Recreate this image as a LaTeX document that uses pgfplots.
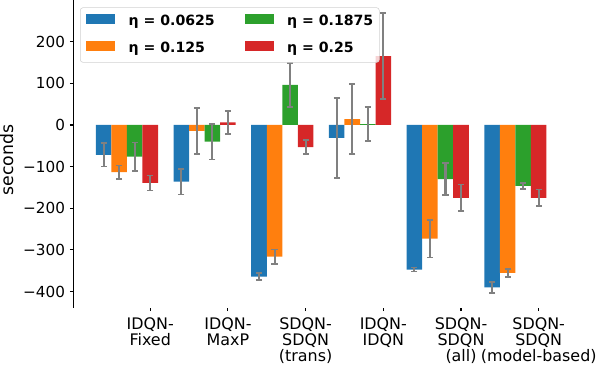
\documentclass[border=0pt]{standalone}
\usepackage{fontspec}
\setmainfont{DejaVu Sans}
\usepackage{pgfplots}
\pgfplotsset{compat=1.18}

\definecolor{c1}{HTML}{1F77B4}
\definecolor{c2}{HTML}{FF7F0E}
\definecolor{c3}{HTML}{2CA02C}
\definecolor{c4}{HTML}{D62728}
\definecolor{errgray}{HTML}{808080}

% bar centres: group index + offset (-0.6, -0.4, -0.2, 0.0)
\pgfplotstableread{
x     y     e
-0.6  -72   28
0.4   -136  31
1.4   -364  8
2.4   -31   96
3.4   -347  5
4.4   -390  13
}\etaA
\pgfplotstableread{
x     y     e
-0.4  -113  16
0.6   -14   55
1.6   -316  17
2.6   14    84
3.6   -273  45
4.6   -355  10
}\etaB
\pgfplotstableread{
x     y     e
-0.2  -76   34
0.8   -40   43
1.8   96    53
2.8   2     41
3.8   -130  38
4.8   -146  7
}\etaC
\pgfplotstableread{
x     y     e
0.0   -139  18
1.0   6     28
2.0   -53   17
3.0   165   103
4.0   -175  32
5.0   -175  20
}\etaD

\pgfplotsset{
  errbar/.style={
    error bars/.cd,
      y dir=both, y explicit,
      error bar style={line width=1.5bp, color=errgray},
      error mark options={rotate=90, mark size=2.2bp, line width=1.2bp, color=errgray},
  },
  swatch/.style={
    legend image code/.code={\fill[##1, fill opacity=1, sharp corners] (0bp,-1bp) rectangle (20.9bp,6.2bp);}
  },
}

\begin{document}
\begin{tikzpicture}
\useasboundingbox (-52.8bp,-41.3bp) rectangle (378.5bp,221.5bp);
\begin{axis}[
  at={(0,0)}, anchor=south west,
  scale only axis,
  width=356.9bp, height=221.5bp,
  xmin=-0.99, xmax=5.39,
  ymin=-438.5, ymax=300,
  axis x line*=bottom, axis y line*=left,
  x axis line style={draw=none},
  y axis line style={line width=0.8bp},
  tick align=outside,
  major tick length=2.5bp,
  every tick/.style={black, line width=0.8bp},
  xtick={0,1,2,3,4,5},
  xticklabels={IDQN-\\Fixed, IDQN-\\MaxP, SDQN-\\SDQN\\(trans), IDQN-\\IDQN, SDQN-\\SDQN\\(all), SDQN-\\SDQN\\(model-based)},
  xticklabel style={font=\fontsize{11.5}{11.6}\selectfont, align=center, anchor=north, yshift=-1.2bp},
  ytick={-400,-300,-200,-100,0,100,200},
  yticklabels={−400,−300,−200,−100,0,100,200},
  yticklabel style={font=\fontsize{11}{13}\selectfont},
  ylabel={seconds},
  ylabel style={font=\fontsize{12.5}{14}\selectfont, at={(axis description cs:-0.1344,0.48)}, anchor=center},
  legend columns=2,
  transpose legend,
  legend cell align=left,
  legend style={
    at={(0.0135,0.976)}, anchor=north west,
    draw=black!18, rounded corners=2bp, fill=white, fill opacity=0.8, text opacity=1,
    font=\fontsize{10.2}{12}\selectfont\bfseries,
    nodes={inner sep=0pt, text height=7.5bp, text depth=2.5bp},
    /tikz/every odd column/.append style={column sep=9.6bp},
    /tikz/every even column/.append style={column sep=21.6bp},
    row sep=8bp,
    inner xsep=4.3bp, inner ysep=4.5bp,
  },
]
\addplot[ybar, bar width=0.2, bar shift=0pt, fill=c1, draw=none, swatch, errbar]
  table[x=x, y=y, y error=e] {\etaA};
\addlegendentry{η = 0.0625}
\addplot[ybar, bar width=0.2, bar shift=0pt, fill=c2, draw=none, swatch, errbar]
  table[x=x, y=y, y error=e] {\etaB};
\addlegendentry{η = 0.125}
\addplot[ybar, bar width=0.2, bar shift=0pt, fill=c3, draw=none, swatch, errbar]
  table[x=x, y=y, y error=e] {\etaC};
\addlegendentry{η = 0.1875}
\addplot[ybar, bar width=0.2, bar shift=0pt, fill=c4, draw=none, swatch, errbar]
  table[x=x, y=y, y error=e] {\etaD};
\addlegendentry{η = 0.25}
\end{axis}
\end{tikzpicture}
\end{document}
